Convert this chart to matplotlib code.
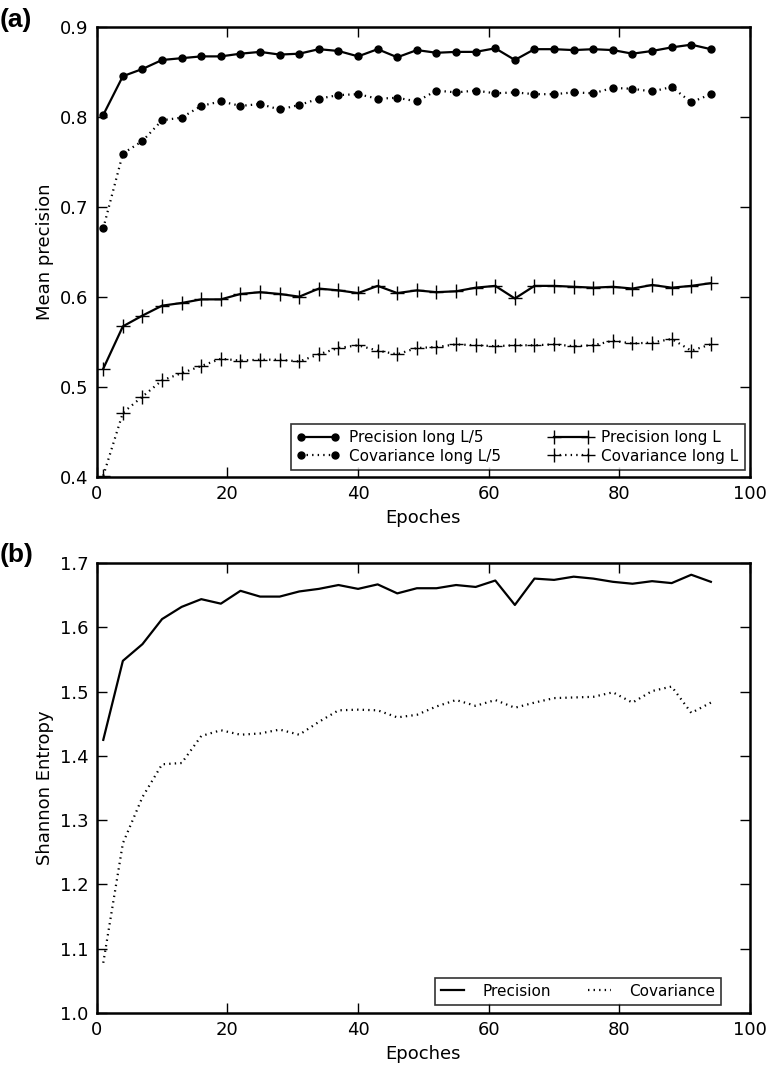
import matplotlib
matplotlib.use("Agg")
import matplotlib.pyplot as plt
import numpy as np

# Data
epochs = np.arange(1, 95, 3)

prec_l5 = [0.802, 0.845, 0.853, 0.863, 0.865, 0.867, 0.867, 0.870, 0.872, 0.869, 0.870, 0.875,
           0.873, 0.867, 0.875, 0.866, 0.874, 0.871, 0.872, 0.872, 0.876, 0.863, 0.875, 0.875,
           0.874, 0.875, 0.874, 0.870, 0.873, 0.877, 0.880, 0.875]
cov_l5 = [0.676, 0.759, 0.773, 0.796, 0.799, 0.812, 0.817, 0.812, 0.814, 0.808, 0.813, 0.820,
          0.824, 0.825, 0.820, 0.821, 0.817, 0.829, 0.827, 0.829, 0.826, 0.827, 0.825, 0.825,
          0.827, 0.826, 0.832, 0.831, 0.828, 0.833, 0.816, 0.825]
prec_l = [0.520, 0.567, 0.579, 0.590, 0.593, 0.597, 0.597, 0.603, 0.605, 0.603, 0.600, 0.609,
          0.607, 0.604, 0.612, 0.604, 0.607, 0.605, 0.606, 0.610, 0.612, 0.598, 0.612, 0.612,
          0.611, 0.610, 0.611, 0.609, 0.613, 0.610, 0.612, 0.615]
cov_l = [0.401, 0.471, 0.489, 0.507, 0.515, 0.523, 0.531, 0.529, 0.530, 0.530, 0.528, 0.536,
         0.543, 0.546, 0.540, 0.536, 0.543, 0.544, 0.547, 0.546, 0.545, 0.546, 0.546, 0.547,
         0.545, 0.546, 0.551, 0.548, 0.549, 0.553, 0.540, 0.547]

ent_prec = [1.425, 1.548, 1.574, 1.613, 1.632, 1.644, 1.637, 1.657, 1.648, 1.648, 1.656, 1.660,
            1.666, 1.660, 1.667, 1.653, 1.661, 1.661, 1.666, 1.663, 1.673, 1.635, 1.676, 1.674,
            1.679, 1.676, 1.671, 1.668, 1.672, 1.669, 1.682, 1.671]
ent_cov = [1.078, 1.264, 1.336, 1.387, 1.389, 1.431, 1.440, 1.433, 1.435, 1.441, 1.433, 1.453,
           1.471, 1.472, 1.471, 1.460, 1.464, 1.477, 1.487, 1.478, 1.487, 1.475, 1.483, 1.490,
           1.491, 1.492, 1.499, 1.483, 1.501, 1.508, 1.467, 1.483]

plt.rcParams['font.family'] = ['DejaVu Sans']
plt.rcParams['lines.dotted_pattern'] = [1, 3]
plt.rcParams['lines.scale_dashes'] = False

fig = plt.figure(figsize=(7.72, 10.76), dpi=100)
fig.patch.set_facecolor('white')

def style_axes(ax):
    for s in ax.spines.values():
        s.set_linewidth(1.8)
    ax.tick_params(direction='in', top=True, right=True, length=7, width=1, labelsize=13, pad=6)
    ax.set_xlim(0, 100)

# (a) mean precision
ax1 = fig.add_axes([0.1253, 0.557, 0.8463, 0.4182])
ax1.plot(epochs, prec_l5, color='k', lw=1.6, ls='-', marker='o', ms=5, label='Precision long L/5')
ax1.plot(epochs, cov_l5, color='k', lw=1.6, ls=':', marker='o', ms=5, label='Covariance long L/5')
ax1.plot(epochs, prec_l, color='k', lw=1.6, ls='-', marker='+', ms=10, mew=1, label='Precision long L')
ax1.plot(epochs, cov_l, color='k', lw=1.6, ls=':', marker='+', ms=10, mew=1, label='Covariance long L')
ax1.set_ylim(0.4, 0.9)
ax1.set_yticks(np.arange(0.4, 0.91, 0.1))
style_axes(ax1)
ax1.set_xlabel('Epoches', fontsize=13)
ax1.set_ylabel('Mean precision', fontsize=13)
leg1 = ax1.legend(loc='lower right', bbox_to_anchor=(0.992, 0.015), borderaxespad=0,
                  ncol=2, fontsize=11, numpoints=2, fancybox=False,
                  handlelength=2.8, columnspacing=3.2, labelspacing=0.25, handletextpad=0.6)
leg1.get_frame().set_edgecolor('k')
leg1.get_frame().set_linewidth(1.2)

# (b) Shannon entropy
ax2 = fig.add_axes([0.1253, 0.0586, 0.8463, 0.418])
ax2.plot(epochs, ent_prec, color='k', lw=1.6, ls='-', label='Precision')
ax2.plot(epochs, ent_cov, color='k', lw=1.6, ls=':', label='Covariance')
ax2.set_ylim(1.0, 1.7)
ax2.set_yticks(np.arange(1.0, 1.71, 0.1))
style_axes(ax2)
ax2.set_xlabel('Epoches', fontsize=13)
ax2.set_ylabel('Shannon Entropy', fontsize=13)
leg2 = ax2.legend(loc='lower right', bbox_to_anchor=(0.9556, 0.018), borderaxespad=0,
                  ncol=2, fontsize=11, fancybox=False,
                  handlelength=1.5, columnspacing=2.4, handletextpad=1.2)
leg2.get_frame().set_edgecolor('k')
leg2.get_frame().set_linewidth(1.2)

fig.text(0.0, 0.981, '(a)', fontsize=19, fontweight='bold', family='Liberation Sans', va='center')
fig.text(0.0, 0.484, '(b)', fontsize=19, fontweight='bold', family='Liberation Sans', va='center')

fig.savefig('out.png', dpi=100, facecolor='white')
